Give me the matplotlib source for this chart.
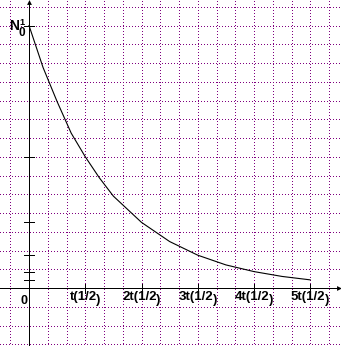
import matplotlib
matplotlib.use("Agg")
import matplotlib.pyplot as plt
from matplotlib.transforms import offset_copy

plt.rcParams["lines.scale_dashes"] = False

# ---- data ----
# time in half-lives, amount as a fraction of N0
t_half = [0, 0.25, 0.5, 0.75, 1.0, 1.25, 1.5, 1.75, 2.0, 2.5, 3.0, 3.5, 4.0, 4.5, 5.0]
n_frac = [1.0, 0.84, 0.71, 0.59, 0.50, 0.42, 0.35, 0.30, 0.25, 0.177, 0.125, 0.088, 0.0625, 0.044, 0.031]

x_ticks = [1, 2, 3, 4, 5]
x_tick_labels = ["t(1/2", "2t(1/2", "3t(1/2", "4t(1/2", "5t(1/2"]
y_ticks = [1, 1/2, 1/4, 1/8, 1/16, 1/32]

# ---- figure ----
W, H = 341, 346
fig = plt.figure(figsize=(W / 100, H / 100), dpi=100)
ax = fig.add_axes([0, 0, 1, 1])
ax.set_axis_off()

ox, oy = 29.0, 288.0       # origin in pixels (from top-left)
sx, sy = 56.25, 262.5      # pixels per half-life, pixels per N0
ax.set_xlim(-ox / sx, (W - ox) / sx)
ax.set_ylim(-(H - oy) / sy, oy / sy)

grid_col = "#800080"
lw1 = 0.72  # ~1 px

# dotted grid
dots = (0, (0.4, 1.76))
for k in range(-1, 17):
    ax.axvline(k / 3, color=grid_col, lw=lw1, ls=dots, antialiased=False, zorder=1)
for k in range(-3, 16):
    ax.axhline(k / 14, color=grid_col, lw=lw1, ls=dots, antialiased=False, zorder=1)

# axes lines
xmin, xmax = ax.get_xlim()
ymin, ymax = ax.get_ylim()
x_end = (339 - ox) / sx
y_top = (oy - 2) / sy
ax.plot([xmin, x_end], [0, 0], color="black", lw=lw1, antialiased=False, zorder=3)
ax.plot([0, 0], [ymin, y_top], color="black", lw=lw1, antialiased=False, zorder=3)
ax.plot([x_end], [0], marker=">", color="black", ms=3.5, mew=0, zorder=4, clip_on=False)
ax.plot([0], [y_top], marker="^", color="black", ms=3.5, mew=0, zorder=4, clip_on=False)

# ticks
tx = 4.5 / sx
ty = 4.5 / sy
for v in x_ticks:
    ax.plot([v, v], [-ty, ty], color="black", lw=lw1, antialiased=False, zorder=3)
for v in y_ticks:
    ax.plot([-tx, tx], [v, v], color="black", lw=lw1, antialiased=False, zorder=3)

# curve
ax.plot(t_half, n_frac, color="black", lw=0.8, zorder=4)

# labels
fp = dict(family="Liberation Sans", color="black", fontweight="bold", zorder=5)
ax.text((14.0 - ox) / sx, (oy - 26) / sy, "N", fontsize=10, ha="center", va="center", **fp)
ax.text((22.0 - ox) / sx, (oy - 22.5) / sy, "1", fontsize=6.5, ha="center", va="center", **fp)
ax.text((21.5 - ox) / sx, (oy - 32.5) / sy, "0", fontsize=8.5, ha="center", va="center", **fp)
ax.text((24.5 - ox) / sx, (oy - 300.5) / sy, "0", fontsize=9, ha="center", va="center", **fp)

fig.canvas.draw()
renderer = fig.canvas.get_renderer()
for v, lab in zip(x_ticks, x_tick_labels):
    tr = offset_copy(ax.transData, fig=fig, x=-2, y=0, units="dots")
    t = ax.text(v, (oy - 291) / sy, lab, fontsize=9.5, ha="center", va="top",
                transform=tr, **fp)
    bb = t.get_window_extent(renderer=renderer)
    ax.text(bb.x1 - 0.5, bb.y1 - 3, ")", fontsize=9.5, ha="left", va="top",
            transform=None, **fp)

fig.savefig("out.png", dpi=100)
